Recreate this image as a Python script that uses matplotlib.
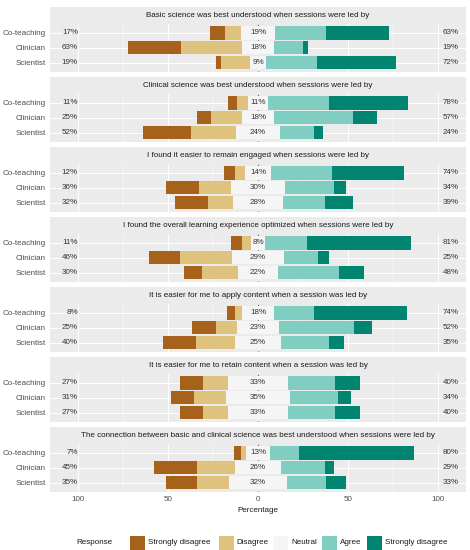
import matplotlib
matplotlib.use('Agg')
import matplotlib.pyplot as plt
from matplotlib.patches import Rectangle

plt.rcParams['font.family'] = ['Liberation Sans', 'DejaVu Sans']

questions = [
    'Basic science was best understood when sessions were led by',
    'Clinical science was best understood when sessions were led by',
    'I found it easier to remain engaged when sessions were led by',
    'I found the overall learning experience optimized when sessions were led by',
    'It is easier for me to apply content when a session was led by',
    'It is easier for me to retain content when a session was led by',
    'The connection between basic and clinical science was best understood when sessions were led by',
]
groups = ['Co-teaching', 'Clinician', 'Scientist']

# percentages per question, order: Co-teaching, Clinician, Scientist
strongly_disagree = [[8, 29, 3], [5, 8, 27], [6, 18, 18], [6, 17, 10], [4, 13, 18], [13, 13, 13], [4, 24, 17]]
disagree = [[9, 34, 16], [6, 17, 25], [6, 18, 14], [5, 29, 20], [4, 12, 22], [14, 18, 14], [3, 21, 18]]
neutral = [[19, 18, 9], [11, 18, 24], [14, 30, 28], [8, 29, 22], [18, 23, 25], [33, 35, 33], [13, 26, 32]]
agree = [[28, 16, 28], [34, 44, 19], [34, 27, 23], [23, 19, 34], [22, 42, 27], [26, 27, 26], [16, 24, 22]]
strongly_agree = [[35, 3, 44], [44, 13, 5], [40, 7, 16], [58, 6, 14], [52, 10, 8], [14, 7, 14], [64, 5, 11]]

responses = ['Strongly disagree', 'Disagree', 'Neutral', 'Agree', 'Strongly disagree']
colors = ['#a6611a', '#dfc27d', '#f5f5f5', '#80cdc1', '#018571']
x_ticks = [-100, -50, 0, 50, 100]
x_ticklabels = ['100', '50', '0', '50', '100']

W, H = 470, 550
FS = 5.8
fig = plt.figure(figsize=(W / 100, H / 100), dpi=100)


def px_axes(x, y, w, h):
    return fig.add_axes([x / W, 1 - (y + h) / H, w / W, h / H])


def draw_panel(i):
    top = 7.3 + 70 * i
    strip = px_axes(50, top, 416, 16.5)
    strip.set_facecolor('#ebebeb')
    strip.set_xticks([])
    strip.set_yticks([])
    for s in strip.spines.values():
        s.set_visible(False)
    strip.text(0.5, 0.5, questions[i], ha='center', va='center', fontsize=FS, color='#1a1a1a',
               transform=strip.transAxes)

    ax = px_axes(50, top + 16.5, 416, 47.9)
    ax.set_facecolor('#ebebeb')
    for s in ax.spines.values():
        s.set_visible(False)
    ax.set_xlim(-115.5, 115.5)
    ax.set_ylim(3.6, 0.4)

    for xv in [-75, -25, 25, 75]:
        ax.axvline(xv, color='white', lw=0.35, zorder=0)
    for xv in x_ticks:
        ax.axvline(xv, color='white', lw=0.7, zorder=0)
    for yv in [1, 2, 3]:
        ax.axhline(yv, color='white', lw=0.7, zorder=0)
    ax.axvline(0, color='#555555', lw=0.8, ls=(0, (1, 6)), zorder=1)

    y = [1, 2, 3]
    sd, d, n, a, sa = (strongly_disagree[i], disagree[i], neutral[i], agree[i], strongly_agree[i])
    lefts = [
        [-(n[k] / 2 + d[k] + sd[k]) for k in range(3)],
        [-(n[k] / 2 + d[k]) for k in range(3)],
        [-n[k] / 2 for k in range(3)],
        [n[k] / 2 for k in range(3)],
        [n[k] / 2 + a[k] for k in range(3)],
    ]
    for vals, left, c in zip([sd, d, n, a, sa], lefts, colors):
        ax.barh(y, vals, left=left, height=0.9, color=c, zorder=2)

    for k in range(3):
        ax.text(-100, y[k], f'{sd[k] + d[k]}%', ha='right', va='center', fontsize=FS, color='#333333', zorder=3)
        ax.text(0, y[k], f'{n[k]}%', ha='center', va='center', fontsize=FS, color='#333333', zorder=3)
        ax.text(102.4, y[k], f'{a[k] + sa[k]}%', ha='left', va='center', fontsize=FS, color='#333333', zorder=3)

    ax.set_yticks(y)
    ax.set_yticklabels(groups, fontsize=FS, color='#4d4d4d')
    ax.tick_params(axis='y', length=0, pad=3.3)
    ax.set_xticks(x_ticks)
    if i == len(questions) - 1:
        ax.set_xticklabels(x_ticklabels, fontsize=FS, color='#4d4d4d')
        ax.tick_params(axis='x', length=0, pad=3)
        ax.set_xlabel('Percentage', fontsize=FS, color='#1a1a1a', labelpad=3)
    else:
        ax.set_xticklabels([])
        ax.tick_params(axis='x', length=0)


for i in range(len(questions)):
    draw_panel(i)

# legend drawn by hand to follow the ggplot layout
fig.text(76 / W, 1 - 542.7 / H, 'Response', ha='left', va='center', fontsize=FS, color='#1a1a1a')
key_x = [129.5, 218.5, 273.0, 321.5, 366.5]
for kx, lab, c in zip(key_x, responses, colors):
    fig.patches.append(Rectangle((kx / W, 1 - 550 / H), 15 / W, 14.5 / H, transform=fig.transFigure,
                                 facecolor=c, edgecolor='none'))
    fig.text((kx + 18.3) / W, 1 - 542.7 / H, lab, ha='left', va='center', fontsize=FS, color='#1a1a1a')

fig.savefig('out.png', dpi=100)
